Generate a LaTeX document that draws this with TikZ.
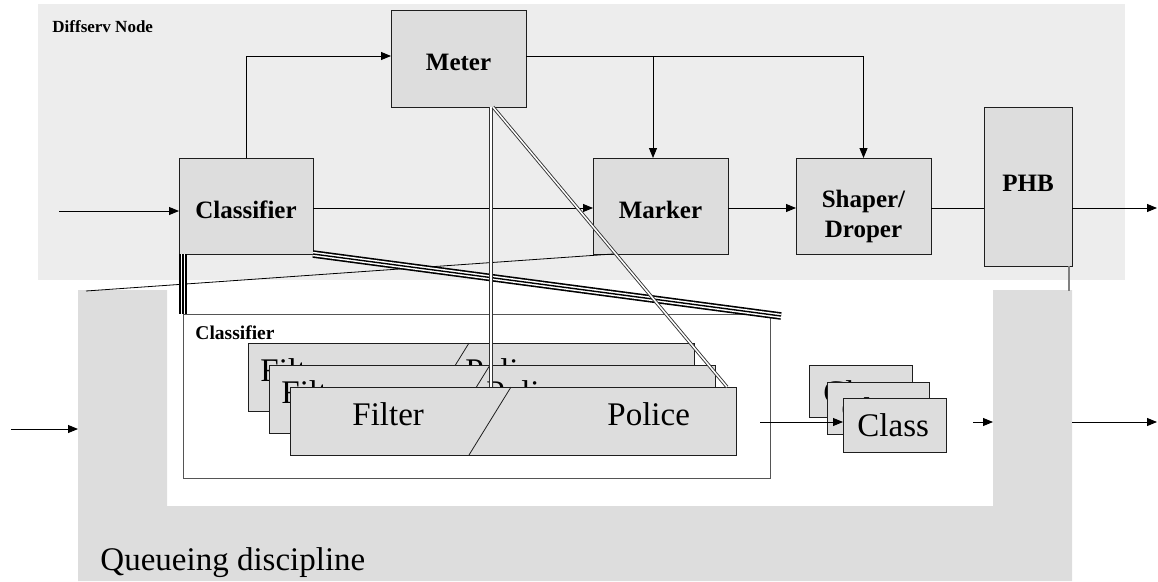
\documentclass[tikz,border=0pt]{standalone}
\usepackage{fontspec}
\setmainfont{Liberation Serif}
\usetikzlibrary{arrows.meta,calc}
\definecolor{panel}{HTML}{EDEDED}
\definecolor{boxfill}{HTML}{DDDDDD}
\definecolor{qfill}{HTML}{DDDDDD}
\definecolor{edge}{HTML}{1E1E1E}
\definecolor{rim}{HTML}{555555}

\begin{document}
\begin{tikzpicture}[x=1pt,y=-1pt,line width=0.9pt,
  arr/.style={-{Triangle[length=10pt,width=8pt]}},
  blk/.style={draw=edge,fill=boxfill,line width=1pt,inner sep=0pt,outer sep=0pt,
    anchor=north west,font=\fontsize{25}{30}\selectfont\bfseries,
    text height=25pt,text depth=0.5pt},
  card/.style={draw=edge,fill=boxfill,line width=1pt,inner sep=0pt,outer sep=0pt,anchor=north west},
  big/.style={font=\fontsize{33}{36}\selectfont,inner sep=0pt,anchor=base west},
  dbl/.style={draw=black!80,double=white,double distance=1.5pt,line width=0.9pt},
  trip/.style={draw=black,line width=1.4pt,
    preaction={draw=white,line width=4.4pt,preaction={draw=black,line width=7.6pt}}},
  divider/.style={draw=edge,line width=0.8pt},
]
\useasboundingbox (0,0) rectangle (1158,581);

% Diffserv node panel
\fill[panel] (38,4) rectangle (1125,280);
\node[font=\fontsize{17}{20}\selectfont\bfseries,anchor=base west,inner sep=0pt] (dsn) at (52,32) {Diffserv Node};

% Queueing discipline (U-shaped band)
\fill[qfill] (78,290) -- (167,290) -- (167,506) -- (993,506) -- (993,290)
  -- (1072,290) -- (1072,581) -- (78,581) -- cycle;
\node[big] (qd) at (100,570) {Queueing discipline};
\coordinate (qL) at (78,429);
\coordinate (qR) at (993,422);
\coordinate (qRo) at (1072,422);

% Top row blocks
\node[blk,minimum width=134pt,minimum height=96pt] (cls) at (179,158) {Classifier};
\node[blk,minimum width=135pt,minimum height=97pt] (meter) at (391,10) {Meter};
\node[blk,minimum width=135pt,minimum height=96pt] (marker) at (593,158) {Marker};
\node[card,minimum width=135pt,minimum height=96pt] (shaper) at (796,158) {};
\node[font=\fontsize{25}{30}\selectfont\bfseries,align=center,inner sep=0pt]
  (shaperlbl) at ([yshift=-10pt]shaper.center) {Shaper/\\Droper};
\node[blk,minimum width=88pt,minimum height=159pt,text height=17pt,text depth=6.5pt] (phb) at (984,107) {PHB};

% Top row connectors
\coordinate (row) at (0,208);
\coordinate (in) at (59,211);
\coordinate (br) at (653,56);
\coordinate (outR) at (1157,0);
\draw[arr] (in) -- (in -| cls.west);
\draw[arr] (cls.north) |- ([yshift=2.5pt]meter.west);
\draw[arr] ([yshift=2.5pt]meter.east) -| (shaper.north);
\draw[arr] (br) -- (br |- marker.north);
\draw[arr] (cls.east |- row) -- (marker.west |- row);
\draw[arr] (marker.east |- row) -- (shaper.west |- row);
\draw (shaper.east |- row) -- (phb.west |- row);
\draw[arr] (phb.east |- row) -- (outR |- row);

% Inner classifier frame
\node[draw=rim,fill=white,line width=1pt,inner sep=0pt,outer sep=0pt,anchor=north west,
  minimum width=587pt,minimum height=164pt] (icls) at (183,314) {};
\node[font=\fontsize{19.5}{22}\selectfont\bfseries,anchor=base west,inner sep=0pt] (iclslbl) at (195,339) {Classifier};

% Filter / Police stack
\node[card,minimum width=446pt,minimum height=68pt] (fb) at (248,343) {};
\draw[divider] ([xshift=179pt]fb.south west) -- ([xshift=221pt]fb.north west);
\node[big] (fbf) at (260,381) {Filter};
\node[big] (fbp) at (465,381) {Police};

\node[card,minimum width=446pt,minimum height=68pt] (fm) at (269,365) {};
\draw[divider] ([xshift=179pt]fm.south west) -- ([xshift=221pt]fm.north west);
\node[big] (fmf) at (281,403) {Filter};
\node[big] (fmp) at (486,403) {Police};

\node[card,minimum width=446pt,minimum height=68pt] (ff) at (290,387) {};
\draw[divider] ([xshift=179pt]ff.south west) -- ([xshift=221pt]ff.north west);
\node[big] (fff) at (352,425) {Filter};
\node[big] (ffp) at (607,425) {Police};

% Class stack
\node[card,minimum width=103pt,minimum height=52pt] (cb) at (809,365) {};
\node[big] (cbt) at (823,403) {Class};
\node[card,minimum width=102pt,minimum height=52pt] (cm) at (827,382) {};
\node[big] (cmt) at (841,420) {Class};
\coordinate (pout) at (760,422);
\coordinate (cfx) at (843,0);
\draw[arr] (pout) -- (pout -| cfx);
\node[card,minimum width=103pt,minimum height=54pt] (cf) at (843,398) {};
\node[big] (cft) at (857,436) {Class};

% Lower row connectors
\coordinate (lin) at (11,429);
\coordinate (qin) at (973,422);
\draw[arr] (lin) -- (qL);
\draw[arr] (qin) -- (qR);
\draw[arr] (qRo) -- (outR |- qRo);

% Links between the two views
\coordinate (qtl) at (86,291);
\draw[line width=0.8pt] (qtl) -- ([xshift=20pt]marker.south west);
\draw[draw=gray,line width=1.2pt] ([xshift=-3pt]phb.south east) -- ++(0,25);
\coordinate (tripEnd) at (781,316);
\draw[trip] (icls.north west |- cls.south) -- (icls.north west);
\draw[trip] (cls.south east) -- (tripEnd);
\coordinate (mA) at ([xshift=32.5pt]meter.south);
\coordinate (mB) at ([xshift=34.5pt]meter.south);
\draw[dbl] (mA) -- (mA |- ff.north);
\draw[dbl] (mB) -- ([xshift=-9pt]ff.north east);
\end{tikzpicture}
\end{document}
